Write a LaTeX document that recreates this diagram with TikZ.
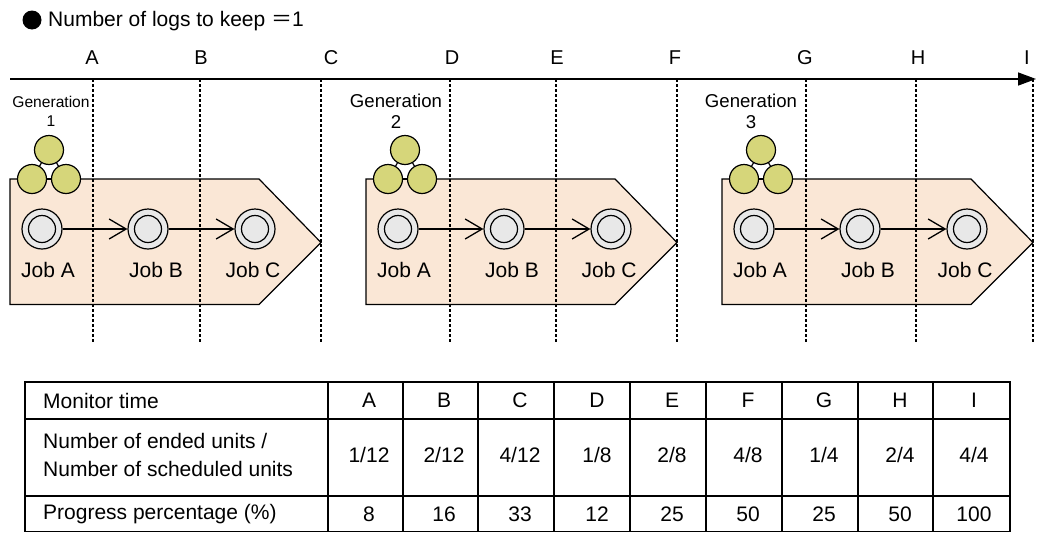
\documentclass[tikz,border=0pt]{standalone}
\usepackage{fontspec}
\setmainfont{Liberation Sans}
\newfontfamily\cjkfont{Noto Sans CJK JP}
\usetikzlibrary{arrows.meta}
\definecolor{peach}{RGB}{250,231,214}
\definecolor{logolive}{RGB}{214,214,122}
\definecolor{jobgray}{RGB}{232,232,232}
\begin{document}
\begin{tikzpicture}[x=1pt,y=-1pt,
  txt/.style={inner sep=0pt, font=\fontsize{21pt}{25pt}\selectfont},
  lettxt/.style={inner sep=0pt, font=\fontsize{20pt}{24pt}\selectfont},
  gensmall/.style={inner sep=0pt, align=center, font=\fontsize{15.6pt}{19pt}\selectfont},
  genbig/.style={inner sep=0pt, align=center, font=\fontsize{18.6pt}{21pt}\selectfont},
  pent/.style={draw, fill=peach, line width=1.2pt, line join=miter},
  logc/.style={circle, draw, fill=logolive, minimum size=29pt, inner sep=0pt, line width=1.2pt},
  jobnode/.style={circle, draw, fill=jobgray, minimum size=40pt, inner sep=0pt, line width=1.2pt,
     path picture={\draw[line width=1.2pt] (path picture bounding box.center) circle (13.5pt);}},
  arr/.style={line width=1.3pt, -{Straight Barb[length=17pt,width=20pt,line width=1.3pt]}},
  axisline/.style={line width=1.5pt, -{Triangle[length=18pt,width=13pt]}},
  dashline/.style={line width=1.3pt, dash pattern=on 3pt off 2pt},
  tbl/.style={line width=1.4pt}
]
\useasboundingbox (0,0) rectangle (1040,533);

% title
\fill (32,20) circle (9.5pt);
\node[txt, anchor=west] (title) at (48,21) {Number of logs to keep {\cjkfont ＝}1};

% generations
\foreach \g/\off in {1/0, 2/356, 3/712} {
  \begin{scope}[xshift=\off]
    \draw[pent] (10,179) -- (259,179) -- (321,242.5) -- (259,304.5) -- (10,304.5) -- cycle;
    \node[logc] (g\g t) at (49,150) {};
    \node[logc] (g\g l) at (32,179) {};
    \node[logc] (g\g r) at (66,179) {};
    \draw[line width=1.2pt] (g\g t) -- (g\g l);
    \draw[line width=1.2pt] (g\g t) -- (g\g r);
    \draw[line width=1.2pt] (g\g l) -- (g\g r);
    \node[jobnode] (g\g a) at (42,229) {};
    \node[jobnode] (g\g b) at (148,229) {};
    \node[jobnode] (g\g c) at (255,229) {};
    \draw[arr] (g\g a) -- (g\g b);
    \draw[arr] (g\g b) -- (g\g c);
    \node[txt] (g\g la) at (48,269.5) {Job A};
    \node[txt] (g\g lb) at (156,269.5) {Job B};
    \node[txt] (g\g lc) at (253,269.5) {Job C};
  \end{scope}
}
\node[gensmall] (gen1) at (51,111) {Generation\\1};
\node[genbig] (gen2) at (396,111) {Generation\\2};
\node[genbig] (gen3) at (751,111) {Generation\\3};

% axis
\coordinate (ax0) at (10,79);
\coordinate (ax1) at (1036,79);
\draw[axisline] (ax0) -- (ax1);
\foreach \L/\lx/\dx in {A/92/93, B/201/200, C/331/321, D/452/450, E/557/556, F/675/677, G/805/806, H/918/916, I/1027/1033} {
  \node[lettxt] (lab\L) at (\lx,58) {\L};
  \coordinate (top\L) at (\dx,79);
  \coordinate (bot\L) at (\dx,342);
  \draw[dashline] (top\L) -- (bot\L);
}

% table
\draw[tbl] (25,382) rectangle (1010,531.5);
\draw[tbl] (25,419) -- (1010,419);
\draw[tbl] (25,496) -- (1010,496);
\foreach \cx in {328,403,478,554,630,706,782,858,933} {
  \draw[tbl] (\cx,382) -- (\cx,531.5);
}
\node[txt, anchor=west] (h1) at (43,400.5) {Monitor time};
\node[txt, anchor=west] (h2a) at (43,441) {Number of ended units /};
\node[txt, anchor=west] (h2b) at (43,469) {Number of scheduled units};
\node[txt, anchor=west] (h3) at (43,514.5) {Progress percentage (\%)};
\foreach \i/\cx/\L/\fr/\pc in {1/369/A/1\slash 12/8, 2/444/B/2\slash 12/16, 3/520/C/4\slash 12/33,
   4/597/D/1\slash 8/12, 5/672/E/2\slash 8/25, 6/748/F/4\slash 8/50,
   7/824/G/1\slash 4/25, 8/900/H/2\slash 4/50, 9/974/I/4\slash 4/100} {
  \node[txt] (ct\i) at (\cx,400.5) {\L};
  \node[txt] (cf\i) at (\cx,455) {\fr};
  \node[txt] (cp\i) at (\cx,514.5) {\pc};
}
\end{tikzpicture}
\end{document}
